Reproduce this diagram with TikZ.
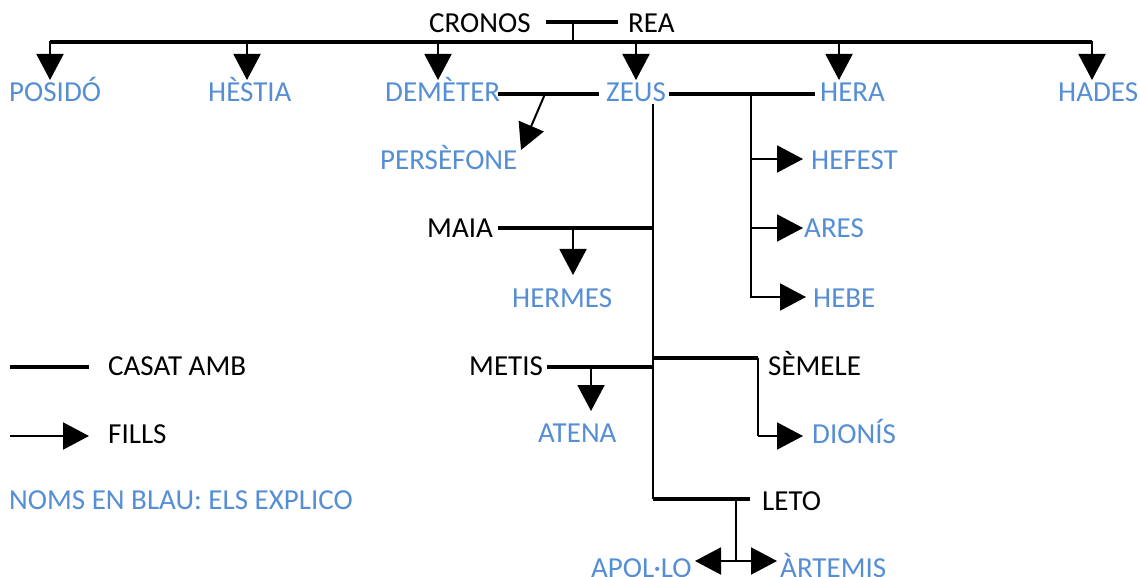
\documentclass[tikz,border=0pt]{standalone}
\usepackage{fontspec}
\setmainfont{Carlito}
\usetikzlibrary{arrows.meta}
\definecolor{nameblue}{HTML}{558ED5}
\begin{document}
\begin{tikzpicture}[x=1pt,y=-1pt,
  lbl/.style={inner sep=0pt, anchor=base west, font=\fontsize{29}{29}\selectfont},
  god/.style={lbl, text=nameblue},
  wed/.style={line width=4pt},
  stem/.style={line width=2pt},
  tip/.tip={Triangle[length=26pt,width=27pt]},
  kid/.style={line width=2pt, -tip}]
\useasboundingbox (0,0) rectangle (1140,577);
% texts
\node[lbl] (cronos) at (429,33) {CRONOS};
\node[lbl] (rea) at (628,33) {REA};
\node[god] (posido) at (9,102) {POSIDÓ};
\node[god] (hestia) at (208,102) {HÈSTIA};
\node[god] (demeter) at (385,102) {DEMÈTER};
\node[god] (zeus) at (606,102) {ZEUS};
\node[god] (hera) at (820,102) {HERA};
\node[god] (hades) at (1058,102) {HADES};
\node[god] (persefone) at (380,170) {PERSÈFONE};
\node[god] (hefest) at (811,170) {HEFEST};
\node[god] (ares) at (804,238) {ARES};
\node[god] (hebe) at (813,307) {HEBE};
\node[lbl] (maia) at (427,238) {MAIA};
\node[god] (hermes) at (512,307) {HERMES};
\node[lbl] (metis) at (469,375) {METIS};
\node[god] (atena) at (538,442) {ATENA};
\node[lbl] (semele) at (768,375) {SÈMELE};
\node[god] (dionis) at (812,443) {DIONÍS};
\node[lbl] (leto) at (762,510) {LETO};
\node[god] (apollo) at (591,577) {APOL·LO};
\node[god] (artemis) at (780,577) {ÀRTEMIS};
\node[lbl] (casat) at (108,375) {CASAT AMB};
\node[lbl] (fills) at (108,443) {FILLS};
\node[god] (noms) at (9,509) {NOMS EN BLAU: ELS EXPLICO};
% coordinates
\coordinate (crL) at (546,22); \coordinate (crR) at (618,22);
\coordinate (crM) at (573,22); \coordinate (topM) at (573,42);
\coordinate (topL) at (50,42); \coordinate (topR) at (1092,42);
\coordinate (dzL) at (498,94); \coordinate (dzR) at (599,94);
\coordinate (dzM) at (545,94); \coordinate (perT) at (521,150);
\coordinate (zhL) at (669,94); \coordinate (zhR) at (815,94);
\coordinate (zhM) at (751,94); \coordinate (zhB) at (751,297);
\coordinate (zT) at (653,104); \coordinate (zB) at (653,499);
\coordinate (maL) at (498,228); \coordinate (maR) at (653,228);
\coordinate (maM) at (573,228); \coordinate (heT) at (573,275);
\coordinate (meL) at (547,367); \coordinate (meR) at (653,367);
\coordinate (meM) at (591,367); \coordinate (atT) at (591,411);
\coordinate (seL) at (653,358); \coordinate (seR) at (758,358);
\coordinate (seB) at (758,436); \coordinate (diT) at (803,436);
\coordinate (leR) at (750,499);
\coordinate (leM) at (736,499); \coordinate (leB) at (736,561);
\coordinate (apT) at (695,561); \coordinate (arT) at (777,561);
\coordinate (lgA) at (10,367); \coordinate (lgB) at (89,367);
\coordinate (lgC) at (10,436); \coordinate (lgD) at (89,436);
% Cronos & Rea
\draw[wed] (crL) -- (crR);
\draw[stem] (crM) -- (topM);
\draw[wed] (topL) -- (topR);
\foreach \x in {50,247,438,636,839,1092}
  \draw[kid] (\x,41) -- (\x,80);
% Demeter - Zeus
\draw[wed] (dzL) -- (dzR);
\draw[kid] (dzM) -- (perT);
% Zeus - Hera
\draw[wed] (zhL) -- (zhR);
\draw[stem] (zhM) -- (zhB);
\draw[kid] (750,159) -- (803,159);
\draw[kid] (750,228) -- (803,228);
\draw[kid] (750,297) -- (806,297);
% Zeus trunk
\draw[stem] (zT) -- (zB);
% Maia
\draw[wed] (maL) -- (maR);
\draw[kid] (maM) -- (heT);
% Metis
\draw[wed] (meL) -- (meR);
\draw[kid] (meM) -- (atT);
% Semele
\draw[wed] (seL) -- (seR);
\draw[stem] (seR) -- (seB);
\draw[kid] (seB) -- (diT);
% Leto
\draw[wed] (zB) -- (leR);
\draw[stem] (leM) -- (leB);
\draw[line width=2pt, tip-tip] (apT) -- (arT);
% legend
\draw[wed] (lgA) -- (lgB);
\draw[kid] (lgC) -- (lgD);
\end{tikzpicture}
\end{document}
